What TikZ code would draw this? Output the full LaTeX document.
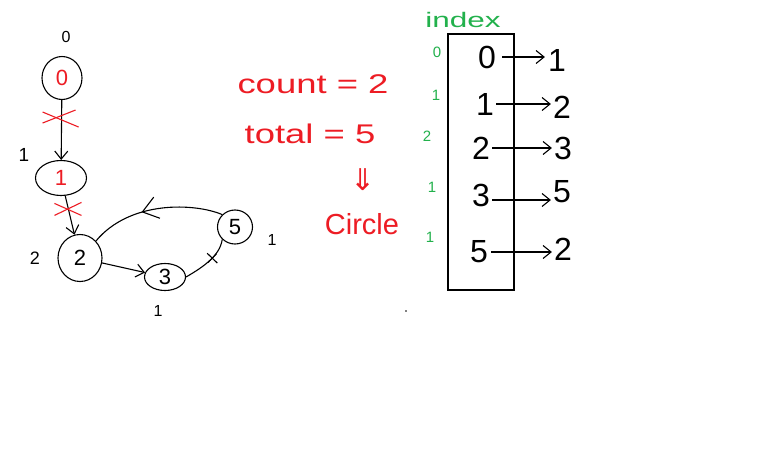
\documentclass[tikz,border=0pt]{standalone}
\usepackage{fontspec}
\setmainfont{Liberation Sans}
\newfontfamily\symfont{DejaVu Sans}
\usetikzlibrary{arrows.meta,shapes.geometric,decorations.markings}
\definecolor{pred}{RGB}{237,28,36}
\definecolor{pgreen}{RGB}{34,177,76}
\tikzset{
  gnode/.style={draw, ellipse, line width=1.1pt, inner sep=0pt, font=\fontsize{22}{22}\selectfont},
  lbl/.style={inner sep=0pt, font=\fontsize{16}{16}\selectfont},
  glbl/.style={inner sep=0pt, text=pgreen, font=\fontsize{15}{15}\selectfont},
  edge/.style={line width=1.1pt, -{Straight Barb[length=8pt,width=13pt]}},
  redtxt/.style={inner sep=0pt, text=pred, font=\fontsize{27}{27}\selectfont},
  cell/.style={inner sep=0pt, font=\fontsize{32}{32}\selectfont},
  val/.style={inner sep=0pt, font=\fontsize{32}{32}\selectfont},
  xmark/.style={pred, line width=1.1pt},
  midarrow/.style={postaction={decorate}, decoration={markings, mark=at position #1 with {\arrow[line width=1.1pt]{Straight Barb[length=15pt,width=22pt]}}}},
  midplus/.style={postaction={decorate}, decoration={markings, mark=at position #1 with {\draw[line width=1.1pt] (0,-7pt)--(0,7pt) (-6pt,0)--(6pt,0);}}}
}
\begin{document}
\begin{tikzpicture}[x=1pt,y=-1pt]
\useasboundingbox[fill=white] (0,0) rectangle (773,455);

% ---- graph ----
\node[gnode, minimum width=40pt, minimum height=43pt] (n0) at (62,78) {\textcolor{pred}{0}};
\node[gnode, minimum width=51pt, minimum height=35pt] (n1) at (61,178) {\textcolor{pred}{1}};
\node[gnode, minimum width=44pt, minimum height=47pt] (n2) at (80,258) {2};
\node[gnode, minimum width=41pt, minimum height=27pt] (n3) at (165,277) {3};
\node[gnode, minimum width=35pt, minimum height=34pt] (n5) at (235,227) {5};

\node[lbl] (l0) at (66,37) {0};
\node[lbl, font=\fontsize{19}{19}\selectfont] (l1) at (24,155) {1};
\node[lbl, font=\fontsize{18}{18}\selectfont] (l2) at (35,258) {2};
\node[lbl] (l3) at (158,311) {1};
\node[lbl] (l5) at (272,240) {1};

\draw[edge] (n0) -- (n1) coordinate[pos=0.3] (x1);
\draw[edge] (n1) -- (n2) coordinate[pos=0.35] (x2);
\draw[edge] (n2) -- (n3);
\draw[line width=1.1pt, midplus=0.6] (n3.east) .. controls (205,266) and (220,255) .. (n5.south west);
\draw[line width=1.1pt, midarrow=0.6] (n5.north west) .. controls (195,203) and (130,200) .. (n2.north east);

\draw[xmark] (x1) ++(-19,-6) -- ++(36,15);
\draw[xmark] (x1) ++(-19,5) -- ++(33,-13);
\draw[xmark] (x2) ++(-14,-6) -- ++(27,12);
\draw[xmark] (x2) ++(-14,6) -- ++(27,-13);

% ---- middle text ----
\node[redtxt, xscale=1.35, transform shape] (cnt) at (313,84) {count = 2};
\node[redtxt, xscale=1.35, transform shape] (tot) at (310,134) {total = 5};
\node[inner sep=0pt, text=pred, font=\symfont\fontsize{30}{30}\selectfont] (dar) at (363,180) {⇓};
\node[redtxt, font=\fontsize{29}{29}\selectfont] (circ) at (362,224) {Circle};

% ---- array ----
\node[inner sep=0pt, text=pgreen, font=\fontsize{21}{21}\selectfont, xscale=1.5, transform shape] (idx) at (463,20) {index};
\node[draw, line width=1.1pt, minimum width=66pt, minimum height=256pt] (box) at (481,162) {};

\node[glbl] (g0) at (437,52) {0};
\node[glbl] (g1) at (436,95) {1};
\node[glbl] (g2) at (427,136) {2};
\node[glbl] (g3) at (432,187) {1};
\node[glbl] (g4) at (430,237) {1};

\node[cell] (c0) at (487,57) {0};
\node[cell] (c1) at (485,104) {1};
\node[cell] (c2) at (481,148) {2};
\node[cell] (c3) at (481,195) {3};
\node[cell] (c4) at (479,252) {5};

\node[val] (v0) at (557,60) {1};
\node[val] (v1) at (562,107) {2};
\node[val] (v2) at (563,148) {3};
\node[val] (v3) at (562,192) {5};
\node[val] (v4) at (563,249) {2};

\draw[edge, shorten <=6pt, shorten >=3pt] (c0.east) -- (c0.east -| v0.west);
\draw[edge, shorten <=2pt, shorten >=2pt] (c1.east) -- (c1.east -| v1.west);
\draw[edge, shorten <=2pt, shorten >=2pt] (c2.east) -- (c2.east -| v2.west);
\draw[edge, shorten <=2pt, shorten >=2pt] ([yshift=-5pt]c3.east) -- ([yshift=-5pt]c3.east -| v3.west);
\draw[edge, shorten <=3pt, shorten >=2pt] (c4.east) -- (c4.east -| v4.west);

\fill (406,311) circle (0.8pt);
\end{tikzpicture}
\end{document}
